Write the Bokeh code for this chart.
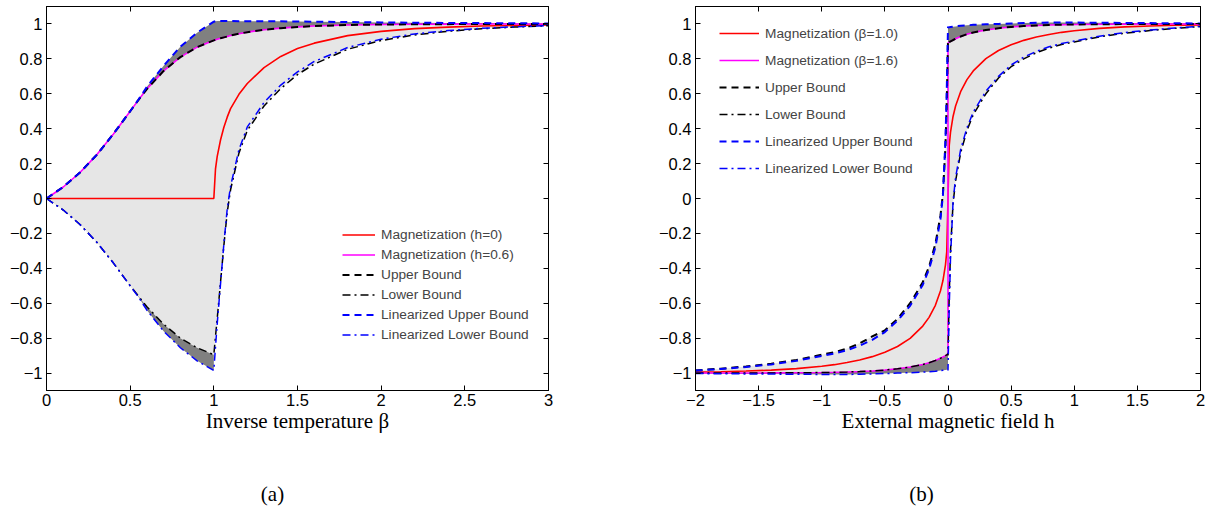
from bokeh.plotting import figure
from bokeh.layouts import row, column
from bokeh.models import (FixedTicker, LinearAxis, Legend, LegendItem, Label,
                          CustomJSTickFormatter)
from bokeh.embed import file_html
from bokeh.resources import INLINE

# ---------------- data: panel (a) ----------------
beta_a = [0, 0.1, 0.2, 0.3, 0.4, 0.5, 0.55, 0.6, 0.7, 0.8, 0.9, 1.0,
          1.01, 1.02, 1.04, 1.06, 1.08, 1.1, 1.15, 1.2, 1.3, 1.4, 1.5, 1.6,
          1.8, 2.0, 2.2, 2.4, 2.6, 2.8, 3.0]
mag_h0_a = [0, 0, 0, 0, 0, 0, 0, 0, 0, 0, 0, 0,
            0.17, 0.24, 0.335, 0.408, 0.466, 0.515, 0.597, 0.659, 0.75, 0.814,
            0.859, 0.89, 0.933, 0.9575, 0.973, 0.982, 0.988, 0.992, 0.995]
mag_h06_a = [0, 0.066, 0.149, 0.25, 0.37, 0.50, 0.565, 0.627, 0.731, 0.81, 0.867, 0.906,
             0.909, 0.912, 0.918, 0.923, 0.928, 0.934, 0.944, 0.953, 0.967, 0.976,
             0.983, 0.988, 0.994, 0.997, 0.998, 0.999, 0.9995, 0.9997, 0.9999]
upper_a = [0, 0.066, 0.149, 0.25, 0.37, 0.50, 0.565, 0.627, 0.731, 0.81, 0.867, 0.906,
           0.909, 0.912, 0.918, 0.923, 0.928, 0.934, 0.944, 0.953, 0.967, 0.976,
           0.983, 0.988, 0.994, 0.997, 0.998, 0.999, 0.9995, 0.9997, 0.9999]
lower_a = [0, -0.066, -0.149, -0.25, -0.37, -0.50, -0.56, -0.62, -0.72, -0.80, -0.855, -0.895,
           -0.79, -0.69, -0.48, -0.27, -0.08, 0.05, 0.26, 0.39, 0.53, 0.63,
           0.71, 0.77, 0.855, 0.905, 0.937, 0.958, 0.972, 0.982, 0.99]
lin_upper_a = [0, 0.066, 0.149, 0.25, 0.37, 0.50, 0.567, 0.64, 0.76, 0.87, 0.95, 1.013,
               1.016, 1.017, 1.017, 1.017, 1.017, 1.017, 1.016, 1.016, 1.015, 1.015,
               1.014, 1.013, 1.011, 1.009, 1.007, 1.006, 1.005, 1.004, 1.003]
lin_lower_a = [0, -0.066, -0.149, -0.25, -0.37, -0.50, -0.565, -0.64, -0.76, -0.855, -0.93, -0.985,
               -0.85, -0.72, -0.49, -0.26, -0.06, 0.07, 0.28, 0.41, 0.55, 0.65,
               0.725, 0.785, 0.865, 0.913, 0.943, 0.962, 0.975, 0.984, 0.991]

# ---------------- data: panel (b) ----------------
h_b = [-2.0, -1.8, -1.6, -1.4, -1.2, -1.0, -0.9, -0.8, -0.7, -0.6, -0.5, -0.4, -0.3, -0.2,
       -0.15, -0.1, -0.06, -0.04, -0.02, -0.01, 0, 0, 0.01, 0.02, 0.04, 0.06, 0.1, 0.15,
       0.2, 0.3, 0.4, 0.5, 0.6, 0.7, 0.8, 0.9, 1.0, 1.2, 1.4, 1.6, 1.8, 2.0]
mag_b1_b = [-0.995, -0.9925, -0.9887, -0.983, -0.9745, -0.961, -0.952, -0.940, -0.925, -0.906,
            -0.881, -0.848, -0.801, -0.731, -0.681, -0.612, -0.53, -0.47, -0.38, -0.305,
            0, 0,
            0.305, 0.38, 0.47, 0.53, 0.612, 0.681, 0.731, 0.801, 0.848, 0.881,
            0.906, 0.925, 0.940, 0.952, 0.961, 0.9745, 0.983, 0.9887, 0.9925, 0.995]
mag_b16_b = [-0.9999, -0.9998, -0.9997, -0.9993, -0.9986, -0.997, -0.9958, -0.994, -0.9915, -0.988,
             -0.983, -0.9757, -0.9655, -0.951, -0.941, -0.928, -0.9155, -0.908, -0.90, -0.896,
             -0.89, 0.89,
             0.896, 0.90, 0.908, 0.9155, 0.928, 0.941, 0.951, 0.9655, 0.9757, 0.983,
             0.988, 0.9915, 0.994, 0.9958, 0.997, 0.9986, 0.9993, 0.9997, 0.9998, 0.9999]
upper_b = [-0.985, -0.975, -0.962, -0.947, -0.925, -0.895, -0.88, -0.86, -0.83, -0.79,
           -0.755, -0.69, -0.60, -0.48, -0.39, -0.26, -0.1, 0.03, 0.3, 0.55,
           0.9, 0.89,
           0.896, 0.90, 0.908, 0.9155, 0.928, 0.941, 0.951, 0.9655, 0.9757, 0.983,
           0.988, 0.9915, 0.994, 0.9958, 0.997, 0.9986, 0.9993, 0.9997, 0.9998, 0.9999]
lower_b = [-0.9999, -0.9998, -0.9997, -0.9993, -0.9986, -0.997, -0.9958, -0.994, -0.9915, -0.988,
           -0.983, -0.9757, -0.9655, -0.951, -0.941, -0.928, -0.9155, -0.908, -0.90, -0.896,
           -0.89, -0.9,
           -0.55, -0.3, -0.03, 0.1, 0.26, 0.39, 0.48, 0.60, 0.69, 0.755,
           0.80, 0.835, 0.862, 0.882, 0.897, 0.926, 0.947, 0.962, 0.975, 0.985]
lin_upper_b = [-0.986, -0.977, -0.965, -0.951, -0.93, -0.902, -0.888, -0.869, -0.843, -0.81,
               -0.765, -0.70, -0.615, -0.495, -0.405, -0.28, -0.12, 0.02, 0.34, 0.62,
               0.985, 0.98,
               0.981, 0.982, 0.984, 0.986, 0.99, 0.992, 0.995, 0.998, 1.0, 1.003,
               1.005, 1.007, 1.008, 1.008, 1.008, 1.007, 1.006, 1.005, 1.004, 1.003]
lin_lower_b = [-1.003, -1.004, -1.005, -1.006, -1.007, -1.008, -1.008, -1.008, -1.007, -1.005,
               -1.003, -1.0, -0.998, -0.995, -0.992, -0.99, -0.986, -0.984, -0.982, -0.981,
               -0.98, -0.985,
               -0.62, -0.34, -0.02, 0.12, 0.28, 0.405, 0.495, 0.615, 0.70, 0.765,
               0.81, 0.843, 0.869, 0.888, 0.902, 0.93, 0.951, 0.965, 0.977, 0.986]

# ---------------- ticks / labels ----------------
yticks = [-1, -0.8, -0.6, -0.4, -0.2, 0, 0.2, 0.4, 0.6, 0.8, 1]
ytick_labels = ["\u22121", "\u22120.8", "\u22120.6", "\u22120.4", "\u22120.2", "0",
                "0.2", "0.4", "0.6", "0.8", "1"]
xticks_a = [0, 0.5, 1, 1.5, 2, 2.5, 3]
xtick_labels_a = ["0", "0.5", "1", "1.5", "2", "2.5", "3"]
xticks_b = [-2, -1.5, -1, -0.5, 0, 0.5, 1, 1.5, 2]
xtick_labels_b = ["\u22122", "\u22121.5", "\u22121", "\u22120.5", "0", "0.5", "1", "1.5", "2"]

legend_labels_a = ["Magnetization (h=0)", "Magnetization (h=0.6)", "Upper Bound",
                   "Lower Bound", "Linearized Upper Bound", "Linearized Lower Bound"]
legend_labels_b = ["Magnetization (\u03b2=1.0)", "Magnetization (\u03b2=1.6)", "Upper Bound",
                   "Lower Bound", "Linearized Upper Bound", "Linearized Lower Bound"]
captions = ["(a)", "(b)"]

LIGHT = "#e6e6e6"
DARK = "#808080"
SANS = "Liberation Sans"
SERIF = "Liberation Serif"
DASH = "7 5"
DASHDOT = "8 4 2 4"


def make_fig(x_range, xticks, xlabels, xlabel, bl, br):
    p = figure(width=608, height=470, x_range=x_range, y_range=(-1.1, 1.1),
               output_backend="svg", toolbar_location=None,
               min_border_left=bl, min_border_right=br, min_border_top=6,
               min_border_bottom=80)
    p.grid.visible = False
    p.outline_line_color = "black"
    p.outline_line_width = 1
    p.background_fill_color = "white"
    p.border_fill_color = "white"
    for ax, ticks, labels in ((p.xaxis[0], xticks, xlabels), (p.yaxis[0], yticks, ytick_labels)):
        ax.ticker = FixedTicker(ticks=ticks)
        ax.major_label_overrides = dict(zip(ticks, labels))
        ax.major_tick_in = 5
        ax.major_tick_out = 0
        ax.minor_tick_line_color = None
        ax.axis_line_color = "black"
        ax.major_tick_line_color = "black"
        ax.major_label_text_font = SANS
        ax.major_label_text_font_size = "16.5px"
        ax.major_label_text_color = "black"
    p.yaxis[0].major_label_standoff = 4
    p.xaxis[0].major_label_standoff = 3
    p.xaxis[0].axis_label = xlabel
    p.xaxis[0].axis_label_text_font = SERIF
    p.xaxis[0].axis_label_text_font_style = "normal"
    p.xaxis[0].axis_label_text_font_size = "21px"
    p.xaxis[0].axis_label_standoff = 0
    p.xaxis[0].axis_label_text_color = "black"
    # mirrored ticks on top and right (no labels)
    for side, ticks in (("above", xticks), ("right", yticks)):
        ax = LinearAxis(ticker=FixedTicker(ticks=ticks),
                        formatter=CustomJSTickFormatter(code="return ''"),
                        major_tick_in=5, major_tick_out=0, minor_tick_line_color=None,
                        major_label_text_font_size="1px", major_label_standoff=0,
                        axis_line_color="black", major_tick_line_color="black")
        p.add_layout(ax, side)
    return p


def draw(p, x, m1, m2, up, lo, lup, llo, top_slice, bot_slice):
    p.varea(x=x, y1=lo, y2=up, fill_color=LIGHT)
    p.varea(x=x[top_slice], y1=up[top_slice], y2=lup[top_slice], fill_color=DARK)
    p.varea(x=x[bot_slice], y1=llo[bot_slice], y2=lo[bot_slice], fill_color=DARK)
    r1 = p.line(x, m1, line_color="#ff0000", line_width=1.6)
    r2 = p.line(x, m2, line_color="#ff00ff", line_width=1.6)
    r3 = p.line(x, up, line_color="black", line_width=2, line_dash=DASH)
    r4 = p.line(x, lo, line_color="black", line_width=1.5, line_dash=DASHDOT)
    r5 = p.line(x, lup, line_color="#0000ff", line_width=2, line_dash=DASH)
    r6 = p.line(x, llo, line_color="#0000ff", line_width=1.5, line_dash=DASHDOT)
    return [r1, r2, r3, r4, r5, r6]


def caption_fig(text, cx):
    c = figure(width=608, height=36, x_range=(0, 608), y_range=(0, 36),
               output_backend="svg", toolbar_location=None, min_border=0,
               x_axis_location=None, y_axis_location=None)
    c.grid.visible = False
    c.outline_line_color = None
    c.add_layout(Label(x=cx, y=13, text=text, text_align="center", text_baseline="middle",
                       text_font=SERIF, text_font_size="21px", text_color="black"))
    return c


# ---- panel (a)
pa = make_fig((0, 3), xticks_a, xtick_labels_a, "Inverse temperature \u03b2", 46, 60)
rs_a = draw(pa, beta_a, mag_h0_a, mag_h06_a, upper_a, lower_a, lin_upper_a, lin_lower_a,
            slice(0, None), slice(0, 12))
leg_a = Legend(items=[LegendItem(label=l, renderers=[r]) for l, r in zip(legend_labels_a, rs_a)],
               location=(296, 47), border_line_color=None, background_fill_alpha=0,
               padding=0, margin=0, spacing=3, glyph_width=33, glyph_height=17,
               label_height=17, label_standoff=6, label_text_font=SANS,
               label_text_font_size="13.7px")
pa.add_layout(leg_a)

# ---- panel (b)
pb = make_fig((-2, 2), xticks_b, xtick_labels_b, "External magnetic field h", 87, 16)
rs_b = draw(pb, h_b, mag_b1_b, mag_b16_b, upper_b, lower_b, lin_upper_b, lin_lower_b,
            slice(21, None), slice(0, 21))
leg_b = Legend(items=[LegendItem(label=l, renderers=[r]) for l, r in zip(legend_labels_b, rs_b)],
               location=(24, 210), border_line_color=None, background_fill_alpha=0,
               padding=0, margin=0, spacing=3, glyph_width=40, glyph_height=24,
               label_height=24, label_standoff=6, label_text_font=SANS,
               label_text_font_size="13.7px")
pb.add_layout(leg_b)

ca = caption_fig(captions[0], 272)
cb = caption_fig(captions[1], 313)

layout = column(row(pa, pb), row(ca, cb))
open("out.html", "w").write(file_html(layout, INLINE))
